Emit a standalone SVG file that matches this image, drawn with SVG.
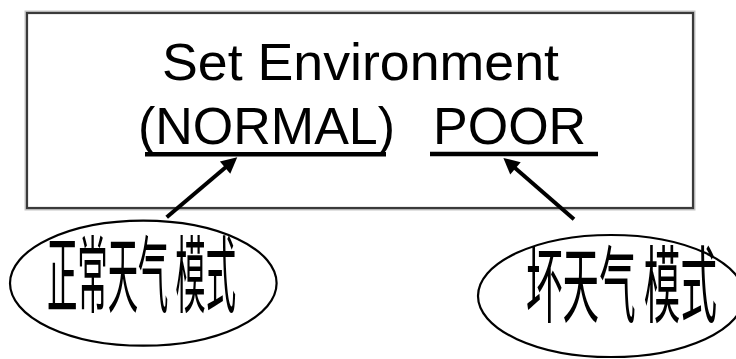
<svg xmlns="http://www.w3.org/2000/svg" width="736" height="359" viewBox="0 0 736 359">
<style>
.en{font-family:"Liberation Sans",Arial,sans-serif;font-size:52px;fill:#000}
.cn{font-family:"Noto Sans CJK SC","Noto Sans",sans-serif;font-size:84px;font-weight:normal;fill:#000}
.ul{stroke:#000;stroke-width:4.5}
.conn{stroke:#000;stroke-width:4;fill:none}
.ell{fill:#fff;stroke:#000;stroke-width:2.2}
</style>
<defs>
<marker id="ah" viewBox="0 0 10 10" refX="5.6" refY="5" markerWidth="4.5" markerHeight="4" markerUnits="strokeWidth" orient="auto">
<path d="M0,0 L10,5 L0,10 z" fill="#000"/>
</marker>
</defs>
<rect width="736" height="359" fill="#fff"/>
<g id="env-box">
<rect x="27" y="13" width="666" height="195" fill="none" stroke="#c4c4c4" stroke-width="5"/>
<rect x="27" y="13" width="666" height="195" fill="#fff" stroke="#3a3a3a" stroke-width="2.2"/>
<text class="en" x="162" y="80" textLength="397" lengthAdjust="spacingAndGlyphs">Set Environment</text>
<text class="en" x="138" y="143.5">(NORMAL)</text>
<text class="en" x="433" y="143.5">POOR</text>
<line class="ul" x1="145" y1="154.3" x2="386" y2="154.3"/>
<line class="ul" x1="430" y1="154" x2="598" y2="154"/>
</g>
<g id="connectors">
<line class="conn" x1="166.7" y1="217.3" x2="231.9" y2="161.9" marker-end="url(#ah)"/>
<line class="conn" x1="574" y1="219.3" x2="508.7" y2="162.5" marker-end="url(#ah)"/>
</g>
<g id="normal-mode">
<ellipse class="ell" cx="143.3" cy="283.2" rx="133.3" ry="62.5"/>
<text class="cn" transform="translate(141.5,306) scale(0.362,1)" text-anchor="middle">正常天气 模式</text>
</g>
<g id="poor-mode">
<ellipse class="ell" cx="611" cy="296" rx="133" ry="61"/>
<text class="cn" transform="translate(621.5,316) scale(0.435,1)" text-anchor="middle">坏天气 模式</text>
</g>
</svg>
